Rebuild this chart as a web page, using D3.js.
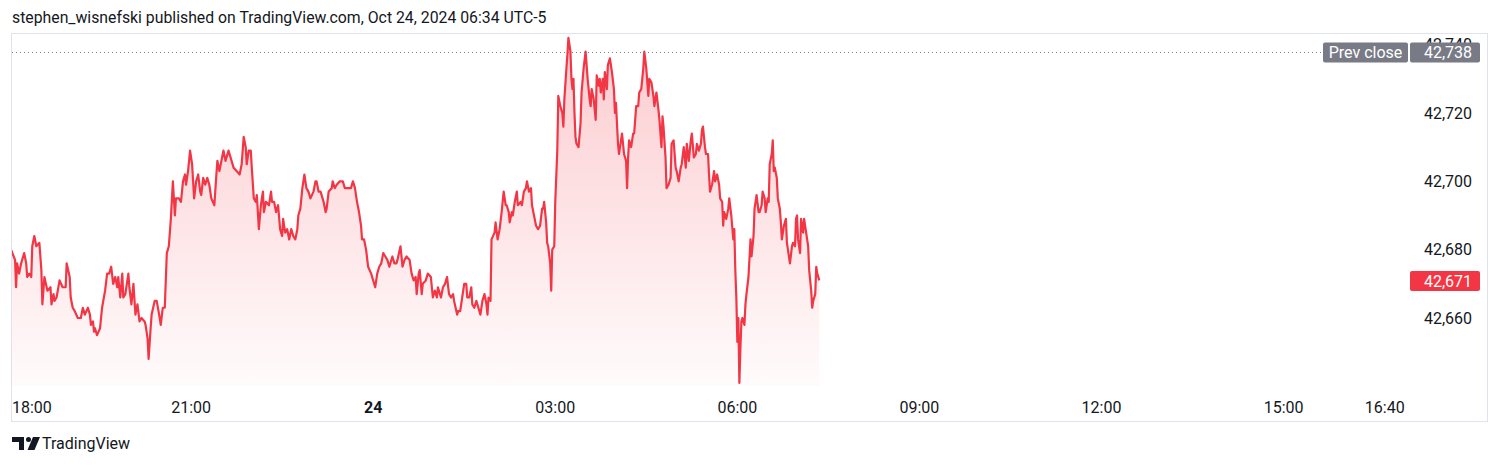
<!DOCTYPE html>
<html><head><meta charset="utf-8">
<script src="https://cdn.jsdelivr.net/npm/d3@7/dist/d3.min.js"></script>
<style>
html,body{margin:0;padding:0;background:#fff;}
svg{display:block;font-family:Roboto,"Noto Sans",sans-serif;}
</style></head>
<body>
<svg id="chart" width="1500" height="465"></svg>
<script>
// ---- data (minutes after 18:00 on Oct 23, 2024; YM futures price) ----
const minutes = [2,6,7,8,10,12,15,17,18,20,22,23,25,27,30,32,33,35,38,41,42,44,45,47,50,53,56,57,60,61,63,65,68,71,73,75,78,80,81,83,84,85,87,90,92,95,97,99,101,103,105,107,108,110,112,113,115,118,119,121,123,125,127,129,131,134,135,137,138,140,141,144,146,149,150,152,154,156,158,160,162,164,165,168,170,172,174,175,177,179,181,183,185,187,189,190,192,194,196,198,200,203,
205,206,208,210,212,214,217,219,222,225,228,230,232,234,235,237,239,240,242,244,245,247,249,251,252,254,257,259,260,262,264,266,268,270,271,273,275,277,279,281,283,285,286,288,290,292,294,296,298,301,303,304,306,308,311,313,314,316,319,320,322,324,327,330,332,335,338,340,342,344,346,348,349,351,353,355,358,360,362,364,366,368,370,372,374,376,379,381,383,384,387,389,391,393,396,398,400,402,403,405,
406,408,409,412,414,417,419,421,423,424,427,429,431,433,435,437,439,440,443,444,446,448,450,452,453,455,457,458,460,462,464,466,468,470,472,473,474,476,477,480,481,483,485,487,489,491,492,494,495,497,498,500,502,503,506,507,509,511,512,514,516,517,519,521,523,525,527,528,529,531,532,533,535,536,537,539,540,542,543,545,547,548,549,551,552,553,555,556,557,558,559,560,561,563,565,566,568,570,572,574,
575,576,578,580,581,583,584,585,587,588,589,591,592,594,596,598,599,600,602,603,604,606,608,610,611,612,613,615,617,618,620,622,623,625,627,628,630,632,633,635,637,638,640,642,643,645,646,647,649,650,652,654,655,657,659,660,662,664,665,667,669,670,672,674,675,677,679,680,682,684,685,686,688,689,691,692,693,695,697,698,700,702,703,705,706,707,709,711,712,714,716,717,718,719,720,721,722,723,724,725,
727,728,729,731,733,734,736,737,739,741,742,744,745,747,748,750,751,752,754,755,756,757,759,760,762,763,764,766,768,769,771,772,774,775,777,778,779,780,782,783,785,786,788,790,791,793,794,795,797,798,799,801];

const prices = [42680,42677,42669,42676,42673,42676,42679,42676,42672,42673,42672,42681,42684,42681,42682,42674,42664,42672,42668,42669,42664,42667,42665,42666,42671,42669,42669,42676,42672,42666,42663,42662,42660,42660,42663,42661,42663,42661,42658,42659,42656,42657,42655,42657,42663,42668,42673,42673,42675,42670,42672,42669,42672,42666,42673,42666,42667,42673,42669,42664,42670,42661,42664,42659,42660,42659,42658,42654,42648,42657,42661,42665,42665,42660,42658,42663,42663,42679,42681,42689,42700,42690,42695,42695,42694,42700,42702,42699,42703,42709,42705,42695,42700,42702,42697,42696,42701,42699,42701,42699,42695,42693,
42702,42706,42703,42706,42709,42706,42709,42707,42704,42703,42702,42705,42713,42710,42705,42709,42709,42704,42695,42694,42696,42686,42693,42697,42691,42694,42693,42697,42694,42694,42691,42693,42686,42684,42689,42685,42686,42683,42686,42684,42683,42686,42690,42692,42698,42702,42698,42697,42695,42697,42700,42700,42697,42697,42694,42691,42692,42697,42698,42700,42698,42699,42700,42700,42698,42698,42698,42700,42698,42694,42691,42687,42683,42683,42680,42675,42673,42671,42669,42673,42675,42676,42679,42678,42677,42675,42678,42676,42676,42677,42681,42675,42677,42678,42677,42673,42671,42672,42667,42673,
42674,42667,42670,42671,42673,42672,42666,42668,42666,42669,42666,42669,42670,42672,42667,42666,42667,42665,42661,42662,42662,42666,42670,42670,42666,42666,42669,42664,42663,42665,42663,42661,42665,42667,42664,42661,42666,42665,42683,42685,42688,42683,42686,42691,42697,42693,42693,42691,42688,42691,42690,42694,42697,42693,42694,42693,42697,42698,42700,42697,42698,42693,42690,42687,42686,42687,42692,42692,42694,42688,42682,42681,42676,42668,42680,42681,42694,42709,42725,42722,42720,42716,42724,42733,42737,42742,42738,42730,42727,42730,42720,42713,42711,42710,42717,42726,42733,42738,42730,42724,
42722,42727,42724,42718,42731,42728,42730,42726,42730,42724,42732,42727,42734,42736,42732,42727,42720,42723,42711,42708,42710,42714,42708,42706,42698,42707,42712,42710,42714,42714,42722,42722,42726,42727,42733,42738,42733,42725,42730,42729,42725,42722,42726,42721,42718,42710,42719,42716,42707,42698,42699,42701,42711,42712,42704,42703,42700,42704,42705,42710,42704,42711,42706,42712,42714,42707,42708,42711,42709,42711,42715,42716,42710,42708,42708,42702,42697,42699,42703,42700,42702,42699,42695,42694,42687,42691,42689,42692,42695,42690,42683,42686,42674,42666,42653,42660,42641,42651,42659,42660,
42658,42664,42667,42672,42683,42678,42684,42692,42696,42691,42691,42693,42697,42695,42691,42695,42694,42705,42708,42712,42703,42704,42701,42695,42692,42688,42683,42687,42689,42682,42678,42676,42681,42682,42681,42689,42690,42683,42679,42689,42685,42689,42685,42681,42674,42668,42663,42665,42667,42675,42673,42671];

const prevClose = 42738;
const priceTicks = [42660, 42680, 42700, 42720, 42740];
const timeTickMinutes = [0, 180, 360, 540, 720, 900, 1080, 1260, 1360];
const timeTickLabels = ["18:00", "21:00", "24", "03:00", "06:00", "09:00", "12:00", "15:00", "16:40"];
const titleText = "stephen_wisnefski published on TradingView.com, Oct 24, 2024 06:34 UTC-5";

// ---- setup ----
const RED = "#f23645", GREY = "#787b86", TXT = "#131722", BORDER = "#e0e3eb";
const t0 = Date.UTC(2024, 9, 23, 18, 0);
const toDate = m => new Date(t0 + m * 60000);
const data = minutes.map((m, i) => ({t: toDate(m), v: prices[i]}));

const pane = {left: 12, right: 1405, top: 33, bottom: 386};
const x = d3.scaleUtc().domain([toDate(0), toDate(23 * 60)]).range([9, 1405]);
const y = d3.scaleLinear().domain([42660, 42720]).range([318, 113]);

const svg = d3.select("#chart");

// title
svg.append("text").attr("x", 12).attr("y", 23).attr("font-size", 15.8).attr("fill", TXT).text(titleText);

// outer border
svg.append("rect").attr("x", 11.5).attr("y", 33.5).attr("width", 1476).attr("height", 388)
  .attr("fill", "none").attr("stroke", BORDER).attr("stroke-width", 1);

// gradient
const defs = svg.append("defs");
const grad = defs.append("linearGradient").attr("id", "areaGrad")
  .attr("gradientUnits", "userSpaceOnUse").attr("x1", 0).attr("x2", 0)
  .attr("y1", pane.top).attr("y2", pane.bottom);
grad.append("stop").attr("offset", "0%").attr("stop-color", RED).attr("stop-opacity", 0.26);
grad.append("stop").attr("offset", "100%").attr("stop-color", RED).attr("stop-opacity", 0.02);
defs.append("clipPath").attr("id", "paneClip").append("rect")
  .attr("x", pane.left).attr("y", pane.top + 1).attr("width", pane.right - pane.left).attr("height", pane.bottom - pane.top);

const g = svg.append("g").attr("clip-path", "url(#paneClip)");
g.append("path").datum(data)
  .attr("d", d3.area().x(d => x(d.t)).y0(pane.bottom).y1(d => y(d.v)))
  .attr("fill", "url(#areaGrad)");
g.append("path").datum(data)
  .attr("d", d3.line().x(d => x(d.t)).y(d => y(d.v)))
  .attr("fill", "none").attr("stroke", RED).attr("stroke-width", 2.2).attr("stroke-linejoin", "round");

// prev close dotted line
const pcY = Math.round(y(prevClose)) + 1.5;
svg.append("line").attr("x1", pane.left).attr("x2", 1323)
  .attr("y1", pcY).attr("y2", pcY)
  .attr("stroke", GREY).attr("stroke-width", 1).attr("stroke-dasharray", "1,3");

// price axis labels
const fmt = d3.format(",");
svg.append("g").selectAll("text").data(priceTicks).join("text")
  .attr("x", 1472).attr("y", d => y(d)).attr("dy", "0.35em")
  .attr("text-anchor", "end").attr("font-size", 16).attr("fill", TXT).text(d => fmt(d));

// prev close labels (cover the top tick, as in the original)
svg.append("rect").attr("x", 1323).attr("y", pcY - 10).attr("width", 85).attr("height", 20).attr("rx", 2).attr("fill", GREY);
svg.append("text").attr("x", 1365.5).attr("y", pcY).attr("dy", "0.35em").attr("text-anchor", "middle")
  .attr("font-size", 16).attr("fill", "#fff").text("Prev close");
svg.append("rect").attr("x", 1410).attr("y", pcY - 10).attr("width", 70).attr("height", 20).attr("rx", 2).attr("fill", GREY);
svg.append("text").attr("x", 1472).attr("y", pcY).attr("dy", "0.35em").attr("text-anchor", "end")
  .attr("font-size", 16).attr("fill", "#fff").text(fmt(prevClose));

// last price label
const last = prices[prices.length - 1];
const lY = y(last);
svg.append("rect").attr("x", 1410).attr("y", lY - 9.5).attr("width", 70).attr("height", 20).attr("rx", 2).attr("fill", RED);
svg.append("text").attr("x", 1472).attr("y", lY + 0.5).attr("dy", "0.35em").attr("text-anchor", "end")
  .attr("font-size", 16).attr("fill", "#fff").text(fmt(last));

// time axis labels
svg.append("g").selectAll("text").data(timeTickMinutes).join("text")
  .attr("x", (d, i) => i === 0 ? pane.left : x(toDate(d)))
  .attr("y", 407).attr("dy", "0.35em")
  .attr("text-anchor", (d, i) => i === 0 ? "start" : "middle")
  .attr("font-size", 16).attr("fill", TXT)
  .attr("font-weight", (d, i) => timeTickLabels[i] === "24" ? "bold" : "normal")
  .text((d, i) => timeTickLabels[i]);

// TradingView logo
const logo = svg.append("g").attr("fill", TXT);
logo.append("path").attr("d", "M12,437 H24 V450 H19 V442 H12 Z");
logo.append("circle").attr("cx", 28.5).attr("cy", 439.5).attr("r", 2.5);
logo.append("path").attr("d", "M33,437 H40 L34.5,450 H27.5 Z");
svg.append("text").attr("x", 42).attr("y", 449).attr("font-size", 16).attr("fill", TXT).text("TradingView");
</script>
</body></html>
